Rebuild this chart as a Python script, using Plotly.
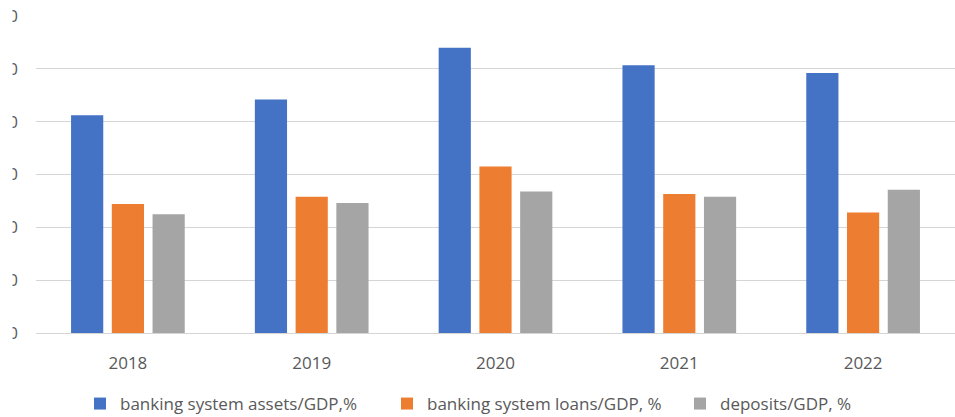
import plotly.graph_objects as go

# Banking sector depth indicators, % of GDP
years = ["2018", "2019", "2020", "2021", "2022"]
assets_gdp = [41.2, 44.2, 54.0, 50.7, 49.2]
loans_gdp = [24.4, 25.8, 31.5, 26.3, 22.8]
deposits_gdp = [22.5, 24.6, 26.8, 25.8, 27.1]

series_names = [
    "banking system assets/GDP,%",
    "banking system loans/GDP, %",
    "deposits/GDP, %",
]
y_ticks = [0, 10, 20, 30, 40, 50, 60]

W, H = 955, 417
ML, MR, MT, MB = 36, 0, 16, 84
PW, PH = W - ML - MR, H - MT - MB

TEXT = "#595959"
FONT = "Open Sans"
FS = 17


def px_x(p):
    """Pixel column -> paper x."""
    return (p - ML) / PW


def px_y(p):
    """Pixel row -> paper y."""
    return (H - MB - p) / PH


colors = ["#4472C4", "#ED7D31", "#A5A5A5"]
values = [assets_gdp, loans_gdp, deposits_gdp]
legend_ids = ["legend", "legend2", "legend3"]
legend_left = [80, 387, 680]

fig = go.Figure()
for name, vals, col, lid in zip(series_names, values, colors, legend_ids):
    fig.add_trace(go.Bar(
        x=years, y=vals, name=name,
        marker=dict(color=col, line=dict(width=0)),
        legend=lid,
    ))

legend_common = dict(
    orientation="h", yanchor="middle", xanchor="left",
    font=dict(family=FONT, size=FS, color=TEXT),
    bgcolor="rgba(0,0,0,0)", borderwidth=0,
)

fig.update_layout(
    width=W, height=H,
    margin=dict(l=ML, r=MR, t=MT, b=MB, pad=0, autoexpand=False),
    paper_bgcolor="white", plot_bgcolor="white",
    barmode="group", bargap=0.335, bargroupgap=0.21,
    font=dict(family=FONT, size=FS, color=TEXT),
    legend=dict(x=px_x(legend_left[0]), y=px_y(404), **legend_common),
    legend2=dict(x=px_x(legend_left[1]), y=px_y(404), **legend_common),
    legend3=dict(x=px_x(legend_left[2]), y=px_y(404), **legend_common),
    xaxis=dict(
        automargin=False,
        showgrid=False, showline=True, linecolor="#D5D5D5", linewidth=1,
        ticks="", ticklabelstandoff=15,
        tickfont=dict(family=FONT, size=FS, color=TEXT),
    ),
    yaxis=dict(
        automargin=False,
        range=[0, 60], tickvals=y_ticks, ticktext=[str(v) for v in y_ticks],
        showgrid=True, gridcolor="#D5D5D5", gridwidth=1,
        zeroline=False, showline=False, ticks="",
        ticklabelstandoff=17,
        tickfont=dict(family=FONT, size=FS, color=TEXT),
    ),
    showlegend=True,
)

# white band along the left edge of the page, trimming the axis labels
fig.add_shape(
    type="rect", xref="paper", yref="paper",
    x0=px_x(-2), x1=px_x(12.5), y0=px_y(H), y1=px_y(-2),
    fillcolor="white", line=dict(width=0), layer="above",
)

fig.write_html("out.html")
